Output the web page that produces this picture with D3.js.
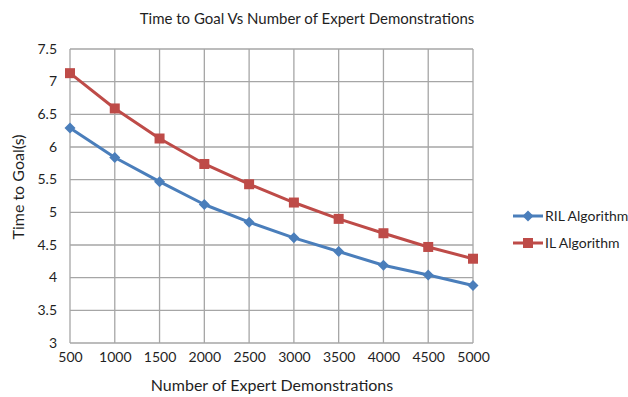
<!DOCTYPE html>
<html>
<head>
<meta charset="utf-8">
<script src="https://cdn.jsdelivr.net/npm/d3@7"></script>
<style>
  html, body { margin: 0; padding: 0; background: #fff; }
  svg { display: block; font-family: Lato, "Open Sans", sans-serif; }
</style>
</head>
<body>
<svg id="chart" width="628" height="397"></svg>
<script>
// Number of expert demonstrations (category axis)
const demonstrations = [500, 1000, 1500, 2000, 2500, 3000, 3500, 4000, 4500, 5000];
// Time to goal in seconds
const rilValues = [6.29, 5.84, 5.47, 5.12, 4.85, 4.61, 4.40, 4.19, 4.04, 3.88];
const ilValues  = [7.13, 6.59, 6.13, 5.74, 5.43, 5.15, 4.90, 4.68, 4.47, 4.29];
const yTicks = [3, 3.5, 4, 4.5, 5, 5.5, 6, 6.5, 7, 7.5];
const seriesNames = ["RIL Algorithm", "IL Algorithm"];

const svg = d3.select("#chart");
const plot = { left: 70, right: 473, top: 49, bottom: 343 };

const x = d3.scalePoint().domain(demonstrations).range([plot.left, plot.right]);
const y = d3.scaleLinear().domain([3, 7.5]).range([plot.bottom, plot.top]);

const gridColor = "#a6a6a6";
const textColor = "#1f1f1f";

// Vertical gridlines
svg.append("g").selectAll("line").data(demonstrations).join("line")
  .attr("x1", d => x(d)).attr("x2", d => x(d))
  .attr("y1", plot.top).attr("y2", plot.bottom)
  .attr("stroke", gridColor).attr("stroke-width", 1.3);

// Horizontal gridlines
svg.append("g").selectAll("line").data(yTicks).join("line")
  .attr("x1", plot.left).attr("x2", plot.right)
  .attr("y1", d => y(d)).attr("y2", d => y(d))
  .attr("stroke", gridColor).attr("stroke-width", 1.3);

// Y axis
const yAxis = svg.append("g")
  .attr("transform", `translate(${plot.left},0)`)
  .call(d3.axisLeft(y).tickValues(yTicks).tickSize(0).tickPadding(13).tickFormat(d3.format("")));
yAxis.select(".domain").remove();
yAxis.selectAll("text").attr("fill", textColor).style("font-size", "14px")
  .style("font-family", "Lato, sans-serif").attr("dy", "0.3em");

// X axis
const xAxis = svg.append("g")
  .attr("transform", `translate(0,${plot.bottom})`)
  .call(d3.axisBottom(x).tickSize(0).tickPadding(9));
xAxis.select(".domain").remove();
xAxis.selectAll("text").attr("fill", textColor).style("font-size", "14px")
  .style("font-family", "Lato, sans-serif");

// Titles
svg.append("text").attr("x", 307).attr("y", 24).attr("text-anchor", "middle")
  .attr("fill", textColor).style("font-size", "15px").text("Time to Goal Vs Number of Expert Demonstrations");
svg.append("text").attr("x", 272).attr("y", 391).attr("text-anchor", "middle")
  .attr("fill", textColor).style("font-size", "16px").text("Number of Expert Demonstrations");
svg.append("text").attr("transform", "translate(24,187) rotate(-90)").attr("text-anchor", "middle")
  .attr("fill", textColor).style("font-size", "16px").text("Time to Goal(s)");

const series = [
  { name: seriesNames[0], values: rilValues, color: "#4a7ebb", marker: "diamond" },
  { name: seriesNames[1], values: ilValues, color: "#be4b48", marker: "square" }
];

const line = d3.line().x((d, i) => x(demonstrations[i])).y(d => y(d));

function drawMarker(g, type, color) {
  if (type === "diamond") {
    g.append("path").attr("d", "M0,-5.5L5.5,0L0,5.5L-5.5,0Z").attr("fill", color);
  } else {
    g.append("rect").attr("x", -5).attr("y", -5).attr("width", 10).attr("height", 10).attr("fill", color);
  }
}

series.forEach(s => {
  svg.append("path").datum(s.values).attr("d", line)
    .attr("fill", "none").attr("stroke", s.color).attr("stroke-width", 3)
    .attr("stroke-linejoin", "round");
  s.values.forEach((v, i) => {
    const g = svg.append("g").attr("transform", `translate(${x(demonstrations[i])},${y(v)})`);
    drawMarker(g, s.marker, s.color);
  });
});

// Legend
series.forEach((s, i) => {
  const ly = 216 + i * 27;
  svg.append("line").attr("x1", 513).attr("x2", 543).attr("y1", ly).attr("y2", ly)
    .attr("stroke", s.color).attr("stroke-width", 3);
  const g = svg.append("g").attr("transform", `translate(528,${ly})`);
  drawMarker(g, s.marker, s.color);
  svg.append("text").attr("x", 545).attr("y", ly + 5).attr("fill", textColor)
    .style("font-size", "14px").text(s.name);
});
</script>
</body>
</html>
